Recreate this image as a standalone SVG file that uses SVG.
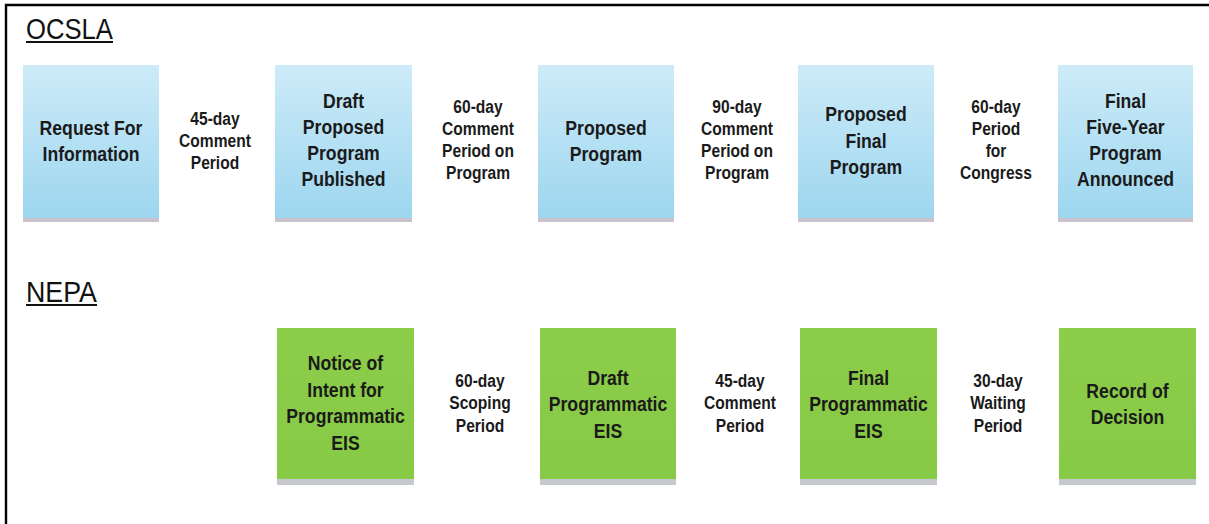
<svg xmlns="http://www.w3.org/2000/svg" width="1209" height="524" viewBox="0 0 1209 524">
  <defs>
    <linearGradient id="blueGrad" x1="0" y1="0" x2="0" y2="1">
      <stop offset="0" stop-color="#cdebf8"/>
      <stop offset="1" stop-color="#9dd6ef"/>
    </linearGradient>
    <linearGradient id="greenGrad" x1="0" y1="0" x2="0" y2="1">
      <stop offset="0" stop-color="#8ccd4a"/>
      <stop offset="1" stop-color="#87ca46"/>
    </linearGradient>
    <style>
      .title { font-family: "Liberation Sans", Arial, sans-serif; font-size: 29px; fill: #111; }
      .ul { stroke: #111; stroke-width: 2; }
      .frame { stroke: #000; stroke-width: 2.4; fill: none; }
      .blue { fill: url(#blueGrad); }
      .green { fill: url(#greenGrad); }
      .bshadow { fill: #cbc3cc; }
      .gshadow { fill: #c6c9ce; }
      .box { font-family: "Liberation Sans", Arial, sans-serif; font-weight: bold; font-size: 21px; fill: #1a1a1a; text-anchor: middle; }
      .lab { font-family: "Liberation Sans", Arial, sans-serif; font-weight: bold; font-size: 19px; fill: #1a1a1a; text-anchor: middle; }
    </style>
  </defs>
  <rect x="0" y="0" width="1209" height="524" fill="#ffffff"/>
  <path class="frame" d="M6 524 V5 H1209"/>

  <g id="title-ocsla">
    <text class="title" x="26" y="39" textLength="87" lengthAdjust="spacingAndGlyphs">OCSLA</text>
    <line class="ul" x1="26" y1="42" x2="113" y2="42"/>
  </g>
  <g id="title-nepa">
    <text class="title" x="26" y="302" textLength="71" lengthAdjust="spacingAndGlyphs">NEPA</text>
    <line class="ul" x1="26" y1="305" x2="97" y2="305"/>
  </g>

  <!-- OCSLA row -->
  <g id="rfi">
    <rect class="bshadow" x="23" y="216" width="136" height="6"/>
    <rect class="blue" x="23" y="65" width="136" height="153"/>
    <text class="box" transform="translate(91 0) scale(0.84 1)"><tspan x="0" y="135.5">Request For</tspan><tspan x="0" y="161.5">Information</tspan></text>
  </g>
  <g id="dpp">
    <rect class="bshadow" x="275" y="216" width="137" height="6"/>
    <rect class="blue" x="275" y="65" width="137" height="153"/>
    <text class="box" transform="translate(343.5 0) scale(0.84 1)"><tspan x="0" y="108.5">Draft</tspan><tspan x="0" y="134.5">Proposed</tspan><tspan x="0" y="160.5">Program</tspan><tspan x="0" y="186.5">Published</tspan></text>
  </g>
  <g id="pp">
    <rect class="bshadow" x="538" y="216" width="136" height="6"/>
    <rect class="blue" x="538" y="65" width="136" height="153"/>
    <text class="box" transform="translate(606 0) scale(0.84 1)"><tspan x="0" y="135.5">Proposed</tspan><tspan x="0" y="161.5">Program</tspan></text>
  </g>
  <g id="pfp">
    <rect class="bshadow" x="798" y="216" width="136" height="6"/>
    <rect class="blue" x="798" y="65" width="136" height="153"/>
    <text class="box" transform="translate(866 0) scale(0.84 1)"><tspan x="0" y="121.5">Proposed</tspan><tspan x="0" y="148">Final</tspan><tspan x="0" y="174.5">Program</tspan></text>
  </g>
  <g id="ffyp">
    <rect class="bshadow" x="1058" y="216" width="135" height="6"/>
    <rect class="blue" x="1058" y="65" width="135" height="153"/>
    <text class="box" transform="translate(1125.5 0) scale(0.84 1)"><tspan x="0" y="108.5">Final</tspan><tspan x="0" y="134.5">Five-Year</tspan><tspan x="0" y="160.5">Program</tspan><tspan x="0" y="186.5">Announced</tspan></text>
  </g>

  <!-- NEPA row -->
  <g id="noi">
    <rect class="gshadow" x="277" y="477" width="137" height="8"/>
    <rect class="green" x="277" y="328" width="137" height="151"/>
    <text class="box" transform="translate(345.5 0) scale(0.84 1)"><tspan x="0" y="370">Notice of</tspan><tspan x="0" y="397">Intent for</tspan><tspan x="0" y="423.5">Programmatic</tspan><tspan x="0" y="450">EIS</tspan></text>
  </g>
  <g id="dpeis">
    <rect class="gshadow" x="540" y="477" width="136" height="8"/>
    <rect class="green" x="540" y="328" width="136" height="151"/>
    <text class="box" transform="translate(608 0) scale(0.84 1)"><tspan x="0" y="385">Draft</tspan><tspan x="0" y="411.5">Programmatic</tspan><tspan x="0" y="438">EIS</tspan></text>
  </g>
  <g id="fpeis">
    <rect class="gshadow" x="800" y="477" width="137" height="8"/>
    <rect class="green" x="800" y="328" width="137" height="151"/>
    <text class="box" transform="translate(868.5 0) scale(0.84 1)"><tspan x="0" y="385">Final</tspan><tspan x="0" y="411.5">Programmatic</tspan><tspan x="0" y="438">EIS</tspan></text>
  </g>
  <g id="rod">
    <rect class="gshadow" x="1059" y="477" width="137" height="8"/>
    <rect class="green" x="1059" y="328" width="137" height="151"/>
    <text class="box" transform="translate(1127.5 0) scale(0.84 1)"><tspan x="0" y="398">Record of</tspan><tspan x="0" y="424.5">Decision</tspan></text>
  </g>

  <!-- period labels (no drawn connectors) -->
  <g id="connectors">
    <text class="lab" transform="translate(215 0) scale(0.82 1)"><tspan x="0" y="125">45-day</tspan><tspan x="0" y="147">Comment</tspan><tspan x="0" y="169">Period</tspan></text>
    <text class="lab" transform="translate(478 0) scale(0.82 1)"><tspan x="0" y="113.5">60-day</tspan><tspan x="0" y="135.5">Comment</tspan><tspan x="0" y="157.5">Period on</tspan><tspan x="0" y="179.5">Program</tspan></text>
    <text class="lab" transform="translate(737 0) scale(0.82 1)"><tspan x="0" y="113.5">90-day</tspan><tspan x="0" y="135.5">Comment</tspan><tspan x="0" y="157.5">Period on</tspan><tspan x="0" y="179.5">Program</tspan></text>
    <text class="lab" transform="translate(996 0) scale(0.82 1)"><tspan x="0" y="113.5">60-day</tspan><tspan x="0" y="135.5">Period</tspan><tspan x="0" y="157.5">for</tspan><tspan x="0" y="179.5">Congress</tspan></text>
    <text class="lab" transform="translate(480 0) scale(0.82 1)"><tspan x="0" y="387">60-day</tspan><tspan x="0" y="409.5">Scoping</tspan><tspan x="0" y="432">Period</tspan></text>
    <text class="lab" transform="translate(740 0) scale(0.82 1)"><tspan x="0" y="387">45-day</tspan><tspan x="0" y="409.5">Comment</tspan><tspan x="0" y="432">Period</tspan></text>
    <text class="lab" transform="translate(998 0) scale(0.82 1)"><tspan x="0" y="387">30-day</tspan><tspan x="0" y="409.5">Waiting</tspan><tspan x="0" y="432">Period</tspan></text>
  </g>
</svg>
